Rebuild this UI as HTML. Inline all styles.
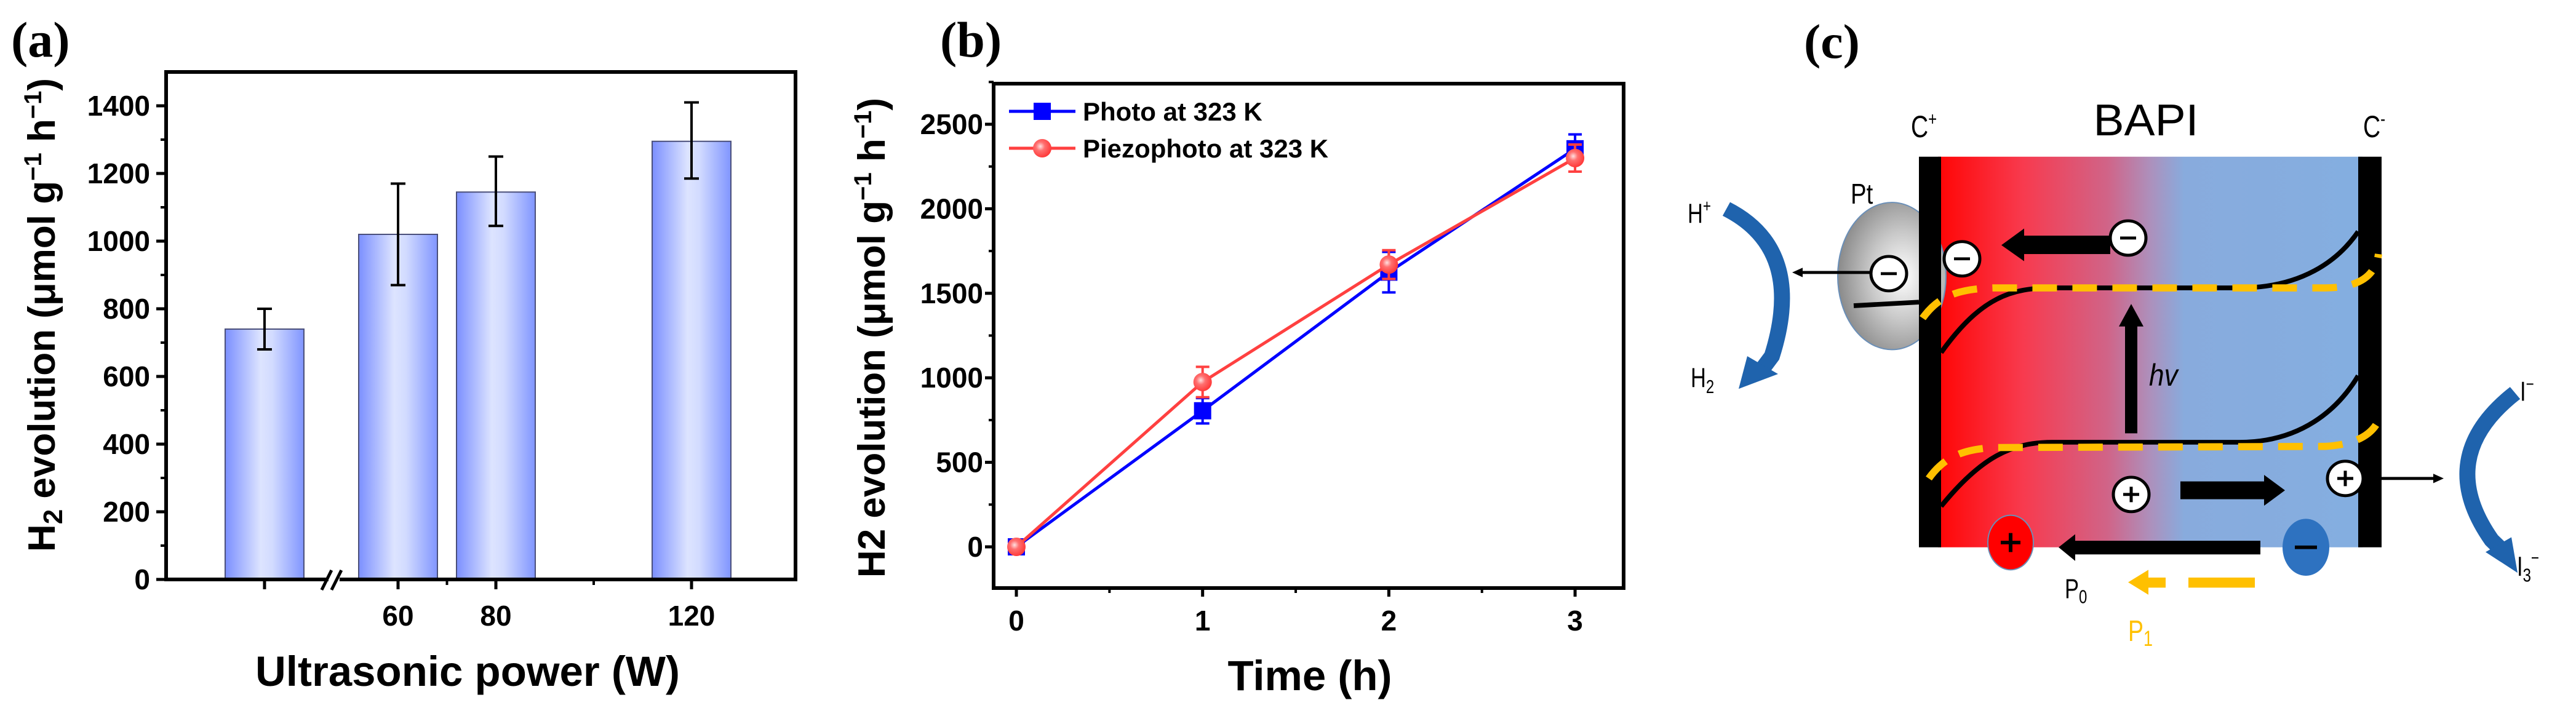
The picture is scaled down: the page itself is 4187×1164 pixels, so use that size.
<!DOCTYPE html>
<html><head><meta charset="utf-8"><style>
html,body{margin:0;padding:0;background:#fff;}
svg{display:block;font-family:"Liberation Sans",Arial,sans-serif;}
</style></head><body>
<svg id="fig" width="4187" height="1164" viewBox="0 0 4187 1164" xmlns="http://www.w3.org/2000/svg">
<defs>
<linearGradient id="barGrad" x1="0" x2="1" y1="0" y2="0">
<stop offset="0" stop-color="#7b8fff"/><stop offset="0.45" stop-color="#dde4ff"/><stop offset="0.6" stop-color="#d2dbff"/><stop offset="1" stop-color="#8095ff"/>
</linearGradient>
<linearGradient id="boxGrad" x1="0" x2="1" y1="0" y2="0">
<stop offset="0" stop-color="#ff0505"/><stop offset="0.2" stop-color="#f83a4e"/><stop offset="0.4" stop-color="#d06488"/><stop offset="0.5" stop-color="#ad90bc"/><stop offset="0.58" stop-color="#88abdd"/><stop offset="1" stop-color="#84aee0"/>
</linearGradient>
<radialGradient id="ptGrad" cx="0.6" cy="0.5" r="0.6">
<stop offset="0" stop-color="#ffffff"/><stop offset="0.5" stop-color="#c8c8c8"/><stop offset="1" stop-color="#8a8a8a"/>
</radialGradient>
<radialGradient id="dotGrad" cx="0.4" cy="0.4" r="0.6">
<stop offset="0" stop-color="#ffe0e0"/><stop offset="0.4" stop-color="#ff7070"/><stop offset="1" stop-color="#ff3b3b"/>
</radialGradient>
</defs>

<!-- Panel a static -->
<text x="18" y="92" font-family="Liberation Serif,serif" font-weight="bold" font-size="82">(a)</text>
<g id="chartA"></g>
<text transform="translate(89,512) rotate(-90)" text-anchor="middle" font-weight="bold" font-size="62">H<tspan font-size="44" dy="12">2</tspan><tspan dy="-12"> evolution (μmol g</tspan><tspan font-size="40" dy="-22">−1</tspan><tspan dy="22"> h</tspan><tspan font-size="40" dy="-22">−1</tspan><tspan dy="22">)</tspan></text>
<text x="760" y="1115" text-anchor="middle" font-weight="bold" font-size="69">Ultrasonic power (W)</text>

<!-- Panel b static -->
<text x="1528" y="92" font-family="Liberation Serif,serif" font-weight="bold" font-size="82">(b)</text>
<g id="chartB"></g>
<text transform="translate(1438,549) rotate(-90)" text-anchor="middle" font-weight="bold" font-size="62">H2 evolution (μmol g<tspan font-size="40" dy="-22">−1</tspan><tspan dy="22"> h</tspan><tspan font-size="40" dy="-22">−1</tspan><tspan dy="22">)</tspan></text>
<text x="2129" y="1122" text-anchor="middle" font-weight="bold" font-size="69">Time (h)</text>

<!-- Panel c diagram -->
<g id="panelC" transform="scale(1,0.965)">
<text x="2932" y="98" font-family="Liberation Serif,serif" font-weight="bold" font-size="82">(c)</text>
<text x="3488" y="228" text-anchor="middle" font-size="75">BAPI</text>
<text x="3106" y="231" font-size="52" transform="translate(3106,0) scale(0.75,1) translate(-3106,0)">C<tspan font-size="32" dy="-20">+</tspan></text>
<text x="3841" y="231" font-size="52" transform="translate(3841,0) scale(0.75,1) translate(-3841,0)">C<tspan font-size="32" dy="-20">-</tspan></text>
<rect x="3150" y="264" width="690" height="658" fill="url(#boxGrad)"/>
<ellipse cx="3075" cy="465" rx="88" ry="124" fill="url(#ptGrad)" stroke="#6a8fb8" stroke-width="2"/>
<rect x="3119" y="264" width="36" height="658" fill="#000"/>
<rect x="3833" y="264" width="38" height="658" fill="#000"/>
<line x1="3013" y1="515" x2="3119" y2="509" stroke="#000" stroke-width="8"/>
<text x="3008" y="343" font-size="48" transform="translate(3008,0) scale(0.8,1) translate(-3008,0)">Pt</text>
<path d="M3155,594 C3220,500 3270,485 3336,485 L3640,485 C3740,485 3800,440 3833,390" fill="none" stroke="#000" stroke-width="8"/>
<path d="M3125,536 C3150,500 3180,487 3240,485 L3780,485 C3840,485 3862,460 3866,428" fill="none" stroke="#ffc000" stroke-width="12" stroke-dasharray="40 25"/>
<path d="M3155,853 C3220,770 3270,745 3336,745 L3640,745 C3740,745 3800,690 3833,633" fill="none" stroke="#000" stroke-width="8"/>
<path d="M3135,806 C3160,770 3190,757 3240,754 L3780,752 C3840,748 3862,725 3870,698" fill="none" stroke="#ffc000" stroke-width="12" stroke-dasharray="40 25"/>
<rect x="3454" y="545" width="20" height="185" fill="#000"/>
<polygon points="3444,550 3484,550 3464,512" fill="#000"/>
<text x="3493" y="650" font-size="52" font-style="italic" transform="translate(3493,0) scale(0.85,1) translate(-3493,0)">hv</text>
<rect x="3285" y="397" width="145" height="31" fill="#000"/>
<polygon points="3290,385 3290,440 3253,413" fill="#000"/>
<rect x="3544" y="811" width="140" height="30" fill="#000"/>
<polygon points="3680,800 3680,852 3714,826" fill="#000"/>
<line x1="3040" y1="459" x2="2925" y2="459" stroke="#000" stroke-width="5"/>
<polygon points="2930,451 2930,467 2913,459" fill="#000"/>
<line x1="3842" y1="806" x2="3960" y2="806" stroke="#000" stroke-width="5"/>
<polygon points="3955,798 3955,814 3972,806" fill="#000"/>
<g fill="#fff" stroke="#000" stroke-width="5">
<circle cx="3459" cy="401" r="29"/><circle cx="3189" cy="436" r="29"/><circle cx="3070" cy="461" r="29"/>
<circle cx="3464" cy="833" r="29"/><circle cx="3812" cy="806" r="29"/>
</g>
<g stroke="#000" stroke-width="5">
<line x1="3446" y1="401" x2="3472" y2="401"/><line x1="3176" y1="436" x2="3202" y2="436"/><line x1="3057" y1="461" x2="3083" y2="461"/>
<line x1="3451" y1="833" x2="3477" y2="833"/><line x1="3464" y1="820" x2="3464" y2="846"/>
<line x1="3799" y1="806" x2="3825" y2="806"/><line x1="3812" y1="793" x2="3812" y2="819"/>
</g>
<ellipse cx="3268" cy="914" rx="37" ry="46" fill="#f00" stroke="#6a8fb8" stroke-width="2"/>
<line x1="3252" y1="914" x2="3284" y2="914" stroke="#000" stroke-width="6"/><line x1="3268" y1="898" x2="3268" y2="930" stroke="#000" stroke-width="6"/>
<ellipse cx="3748" cy="922" rx="38" ry="48" fill="#2e72c0"/>
<line x1="3730" y1="922" x2="3766" y2="922" stroke="#000" stroke-width="6"/>
<rect x="3370" y="911" width="304" height="23" fill="#000"/>
<polygon points="3373,900 3373,945 3346,922" fill="#000"/>
<rect x="3557" y="973" width="108" height="17" fill="#ffc000"/>
<rect x="3490" y="973" width="30" height="17" fill="#ffc000"/>
<polygon points="3492,960 3492,1002 3459,981" fill="#ffc000"/>
<text x="3356" y="1008" font-size="46" transform="translate(3356,0) scale(0.75,1) translate(-3356,0)">P<tspan font-size="32" dy="8">0</tspan></text>
<text x="3459" y="1080" font-size="50" fill="#ffc000" transform="translate(3459,0) scale(0.75,1) translate(-3459,0)">P<tspan font-size="36" dy="8">1</tspan></text>
<path d="M2806,352 Q2935,420 2880,600 L2862,625" fill="none" stroke="#1f63ad" stroke-width="26"/>
<polygon points="2840,600 2890,630 2826,655" fill="#1f63ad"/>
<path d="M4088,662 Q3955,770 4050,910 L4065,925" fill="none" stroke="#1f63ad" stroke-width="26"/>
<polygon points="4040,930 4082,905 4092,965" fill="#1f63ad"/>
<text x="2743" y="375" font-size="46" transform="translate(2743,0) scale(0.75,1) translate(-2743,0)">H<tspan font-size="30" dy="-18">+</tspan></text>
<text x="2748" y="652" font-size="46" transform="translate(2748,0) scale(0.75,1) translate(-2748,0)">H<tspan font-size="32" dy="10">2</tspan></text>
<text x="4096" y="675" font-size="46" transform="translate(4096,0) scale(0.75,1) translate(-4096,0)">I<tspan font-size="30" dy="-18">−</tspan></text>
<text x="4091" y="970" font-size="46" transform="translate(4091,0) scale(0.75,1) translate(-4091,0)">I<tspan font-size="32" dy="10">3</tspan><tspan font-size="30" dy="-30">−</tspan></text>
</g>
</svg>
<script>
// ---------- Panel (a) data ----------
const powerLabels = ['', '60', '80', '120'];
const powerPositions = [32.7, 60, 80, 120];
const h2Values = [740, 1020, 1145, 1295];
const h2ErrLow = [680, 870, 1045, 1185];
const h2ErrHigh = [800, 1170, 1250, 1410];
const aYTicks = [0, 200, 400, 600, 800, 1000, 1200, 1400];
// ---------- Panel (b) data ----------
const timeHours = [0, 1, 2, 3];
const photoValues = [0, 805, 1625, 2355];
const photoErr = [30, 75, 120, 85];
const piezoValues = [0, 975, 1670, 2300];
const piezoErr = [25, 90, 85, 80];
const bYTicks = [0, 500, 1000, 1500, 2000, 2500];
const bXTicks = [0, 1, 2, 3];

const NS = 'http://www.w3.org/2000/svg';
function mk(parent, tag, attrs, text) {
  const e = document.createElementNS(NS, tag);
  for (const k in attrs) e.setAttribute(k, attrs[k]);
  if (text !== undefined) e.textContent = text;
  parent.appendChild(e);
  return e;
}
// ----- axes a -----
const aL = 270, aR = 1293, aT = 117, aB = 942;
const xa = w => 647 + (w - 60) * 7.95;
const ya = v => aB - (v - 0) * (aB - aT) / 1500;
const A = document.getElementById('chartA');
const barW = 128;
h2Values.forEach((v, i) => {
  const cx = xa(powerPositions[i]);
  const r = mk(A, 'rect', {x: cx - barW/2, y: ya(v), width: barW, height: ya(0) - ya(v), fill: 'url(#barGrad)', stroke: '#4a4f7a', 'stroke-width': 2});
  
  
  const eb = mk(A, 'g', {stroke: '#000', 'stroke-width': 4});
  
  
  mk(eb, 'line', {x1: cx, x2: cx, y1: ya(h2ErrLow[i]), y2: ya(h2ErrHigh[i])});
  mk(eb, 'line', {x1: cx - 12, x2: cx + 12, y1: ya(h2ErrLow[i]), y2: ya(h2ErrLow[i])});
  mk(eb, 'line', {x1: cx - 12, x2: cx + 12, y1: ya(h2ErrHigh[i]), y2: ya(h2ErrHigh[i])});
  const tk = mk(A, 'line', {x1: cx, x2: cx, y1: aB, y2: aB + 16, stroke: '#000', 'stroke-width': 5});
  
  
  if (powerLabels[i]) {
    const t = mk(A, 'text', {x: cx, y: 1017, 'text-anchor': 'middle', 'font-weight': 'bold', 'font-size': 46}, powerLabels[i]);
    
    
  }
});
[70, 100].forEach(w => { mk(A, 'line', {x1: xa(w), x2: xa(w), y1: aB, y2: aB + 9, stroke: '#000', 'stroke-width': 4}); });
const frameA = mk(A, 'rect', {x: aL, y: aT, width: aR - aL, height: aB - aT, fill: 'none', stroke: '#000', 'stroke-width': 6});


aYTicks.forEach(v => {
  mk(A, 'line', {x1: aL - 16, x2: aL, y1: ya(v), y2: ya(v), stroke: '#000', 'stroke-width': 5});
  const t = mk(A, 'text', {x: 244, y: ya(v) + 16, 'text-anchor': 'end', 'font-weight': 'bold', 'font-size': 46}, String(v));
  
  
  if (v + 100 < 1500) mk(A, 'line', {x1: aL - 9, x2: aL, y1: ya(v + 100), y2: ya(v + 100), stroke: '#000', 'stroke-width': 4});
});
// axis break
const bx = xa(46.9);
mk(A, 'rect', {x: bx - 9, y: aB - 6, width: 18, height: 12, fill: '#fff'});
const brk = mk(A, 'g', {stroke: '#000', 'stroke-width': 5});


mk(brk, 'line', {x1: bx - 20, y1: aB + 17, x2: bx - 4, y2: aB - 15});
mk(brk, 'line', {x1: bx - 4, y1: aB + 17, x2: bx + 12, y2: aB - 15});

// ----- axes b -----
const bL = 1615, bR = 2639, bT = 136, bB = 956;
const xb = t => 1652 + t * 302.7;
const yb = v => 889 - v * 0.2748;
const B = document.getElementById('chartB');
const frameB = mk(B, 'rect', {x: bL, y: bT, width: bR - bL, height: bB - bT, fill: 'none', stroke: '#000', 'stroke-width': 6});


bYTicks.forEach(v => {
  mk(B, 'line', {x1: bL - 14, x2: bL, y1: yb(v), y2: yb(v), stroke: '#000', 'stroke-width': 5});
  mk(B, 'line', {x1: bL - 8, x2: bL, y1: yb(v + 250), y2: yb(v + 250), stroke: '#000', 'stroke-width': 4});
  const t = mk(B, 'text', {x: 1598, y: yb(v) + 16, 'text-anchor': 'end', 'font-weight': 'bold', 'font-size': 46}, String(v));
  
  
});
bXTicks.forEach(t0 => {
  mk(B, 'line', {x1: xb(t0), x2: xb(t0), y1: bB, y2: bB + 14, stroke: '#000', 'stroke-width': 5});
  if (t0 < 3) mk(B, 'line', {x1: xb(t0 + 0.5), x2: xb(t0 + 0.5), y1: bB, y2: bB + 8, stroke: '#000', 'stroke-width': 4});
  const t = mk(B, 'text', {x: xb(t0), y: 1025, 'text-anchor': 'middle', 'font-weight': 'bold', 'font-size': 46}, String(t0));
  
  
});
function series(vals, errs, color, name, marker) {
  const g = mk(B, 'g', {});
  
  
  mk(g, 'polyline', {points: vals.map((v, i) => xb(timeHours[i]) + ',' + yb(v)).join(' '), fill: 'none', stroke: color, 'stroke-width': 5});
  vals.forEach((v, i) => {
    const x = xb(timeHours[i]);
    mk(g, 'line', {x1: x, x2: x, y1: yb(v - errs[i]), y2: yb(v + errs[i]), stroke: color, 'stroke-width': 4});
    mk(g, 'line', {x1: x - 11, x2: x + 11, y1: yb(v - errs[i]), y2: yb(v - errs[i]), stroke: color, 'stroke-width': 4});
    mk(g, 'line', {x1: x - 11, x2: x + 11, y1: yb(v + errs[i]), y2: yb(v + errs[i]), stroke: color, 'stroke-width': 4});
    let m;
    if (marker === 'square') m = mk(g, 'rect', {x: x - 14, y: yb(v) - 14, width: 28, height: 28, fill: color});
    else m = mk(g, 'circle', {cx: x, cy: yb(v), r: 15, fill: 'url(#dotGrad)'});
    
    
  });
}
series(photoValues, photoErr, '#0000ff', 'photo-series', 'square');
series(piezoValues, piezoErr, '#ff4040', 'piezophoto-series', 'circle');
// legend
const lg = mk(B, 'g', {});


mk(lg, 'line', {x1: 1640, x2: 1748, y1: 181, y2: 181, stroke: '#0000ff', 'stroke-width': 5});
mk(lg, 'rect', {x: 1680, y: 167, width: 28, height: 28, fill: '#0000ff'});
mk(lg, 'text', {x: 1760, y: 196, 'font-weight': 'bold', 'font-size': 42}, 'Photo at 323 K');
mk(lg, 'line', {x1: 1640, x2: 1748, y1: 241, y2: 241, stroke: '#ff4040', 'stroke-width': 5});
mk(lg, 'circle', {cx: 1694, cy: 241, r: 15, fill: 'url(#dotGrad)'});
mk(lg, 'text', {x: 1760, y: 256, 'font-weight': 'bold', 'font-size': 42}, 'Piezophoto at 323 K');
</script>
</body></html>
